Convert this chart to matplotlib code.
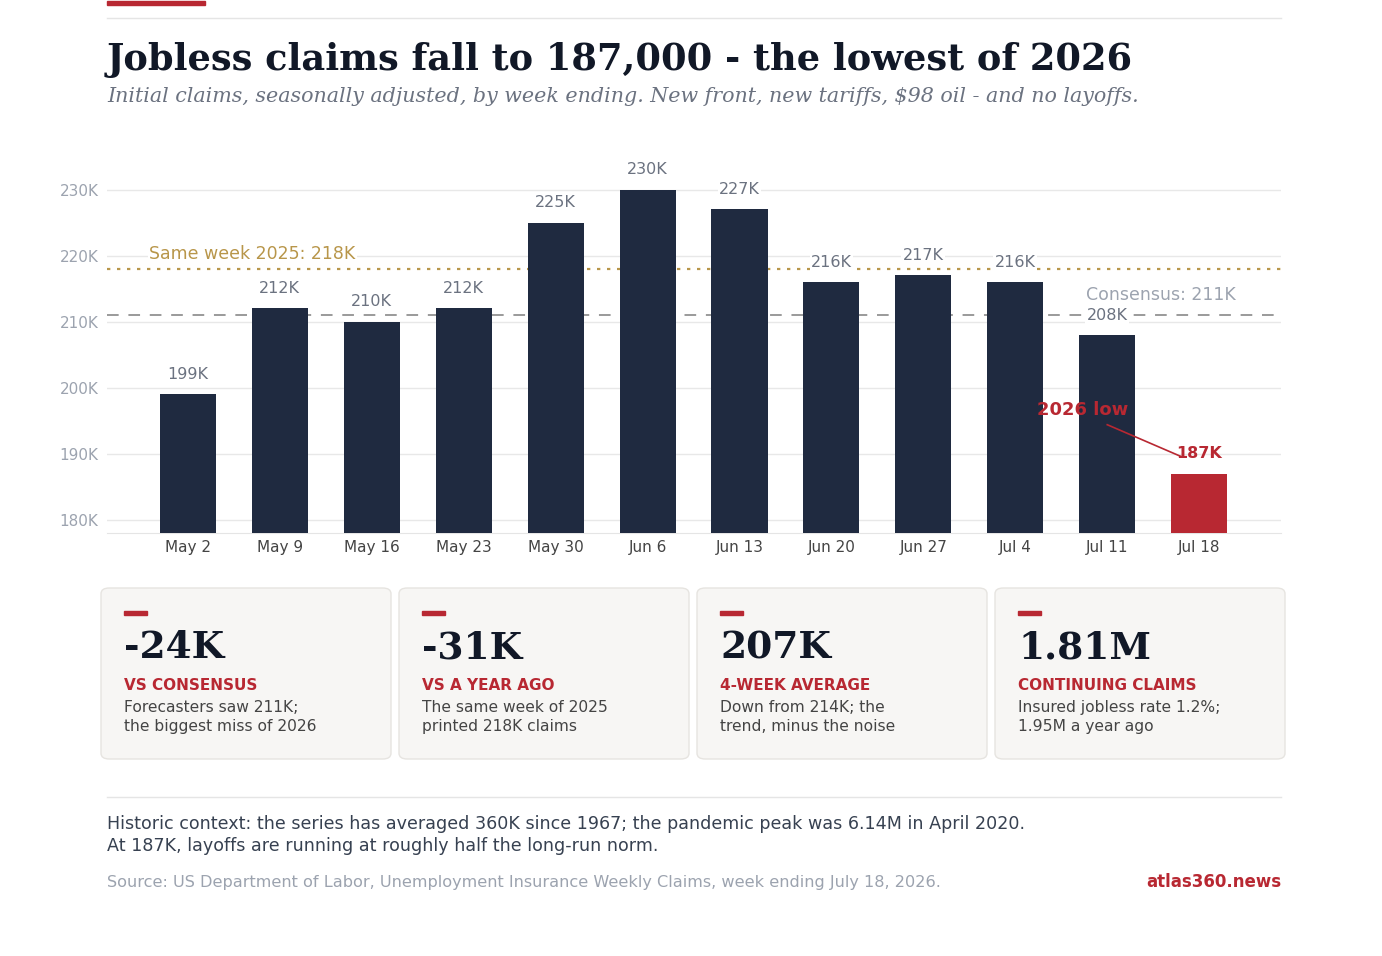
import matplotlib
matplotlib.use("Agg")
import matplotlib.pyplot as plt
from matplotlib.patches import FancyBboxPatch, Rectangle
from matplotlib.lines import Line2D
plt.rcParams['font.family'] = ['DejaVu Sans']

weeks = ["May 2","May 9","May 16","May 23","May 30","Jun 6","Jun 13","Jun 20","Jun 27","Jul 4","Jul 11","Jul 18"]
claims = [199,212,210,212,225,230,227,216,217,216,208,187]
yticks = [180,190,200,210,220,230]
same_week_2025 = 218
consensus = 211
card_values = ["-24K","-31K","207K","1.81M"]
card_labels = ["VS CONSENSUS","VS A YEAR AGO","4-WEEK AVERAGE","CONTINUING CLAIMS"]
card_texts = ["Forecasters saw 211K;\nthe biggest miss of 2026",
              "The same week of 2025\nprinted 218K claims",
              "Down from 214K; the\ntrend, minus the noise",
              "Insured jobless rate 1.2%;\n1.95M a year ago"]

NAVY="#1f2a40"; RED="#b82832"; GOLD="#b8964a"; GRAY="#9ca3af"; DARK="#111827"
W,H=1382,956
fig=plt.figure(figsize=(W/100,H/100),dpi=100)
def fx(x): return x/W
def fy(y): return 1-y/H

fig.add_artist(Rectangle((fx(107),fy(5)),fx(98),4/H,color=RED,transform=fig.transFigure))
fig.add_artist(Line2D([fx(107),fx(1281)],[fy(18),fy(18)],color="#e5e5e5",lw=1,transform=fig.transFigure))
fig.text(fx(107),fy(60),"Jobless claims fall to 187,000 - the lowest of 2026",family="DejaVu Serif",weight="bold",fontsize=26.5,color=DARK,va="center")
fig.text(fx(107),fy(97),"Initial claims, seasonally adjusted, by week ending. New front, new tariffs, $98 oil - and no layoffs.",family="DejaVu Serif",style="italic",fontsize=14.9,color="#6b7280",va="center")

ax=fig.add_axes([fx(107),fy(533),fx(1281)-fx(107),fy(150)-fy(533)])
x=list(range(len(weeks)))
colors=[NAVY]*(len(weeks)-1)+[RED]
ax.bar(x,[c-178 for c in claims],bottom=178,width=0.61,color=colors,zorder=3)
ax.set_xlim(-0.88,11.89); ax.set_ylim(178,236)
ax.set_yticks(yticks); ax.set_yticklabels([f"{t}K" for t in yticks])
ax.set_xticks(x); ax.set_xticklabels(weeks)
ax.tick_params(axis="y",length=0,colors=GRAY,labelsize=11,pad=6)
ax.tick_params(axis="x",length=0,colors="#444444",labelsize=11,pad=5)
ax.grid(axis="y",color="#e8e8e8",lw=1,zorder=0)
for s in ["top","left","right"]: ax.spines[s].set_visible(False)
ax.spines["bottom"].set_color("#e5e5e5")
ax.axhline(same_week_2025,color=GOLD,ls=(0,(1.5,3)),lw=1.6,zorder=2)
ax.axhline(consensus,color="#9a9a9a",ls=(0,(6,5)),lw=1.4,zorder=2)
ax.text(-0.42,220.3,"Same week 2025: 218K",color=GOLD,fontsize=12.5,va="center",
        bbox=dict(facecolor="white",edgecolor="none",pad=1))
ax.text(9.77,214.0,"Consensus: 211K",color=GRAY,fontsize=12.5,va="center")
for i,c in enumerate(claims):
    last=i==len(claims)-1
    ax.text(i,c+3.0,f"{c}K",ha="center",va="center",fontsize=11.5,
            color=RED if last else "#6b7280",weight="bold" if last else "normal",
            bbox=None if last else dict(facecolor="white",edgecolor="none",pad=1),zorder=4)
ax.text(9.73,196.7,"2026 low",color=RED,weight="bold",fontsize=13,ha="center",va="center",zorder=5)
ax.plot([10.0,10.8],[194.4,189.6],color=RED,lw=1.2,zorder=5)

xs=[101,399,697,995]
for i,x0 in enumerate(xs):
    fig.add_artist(FancyBboxPatch((fx(x0),fy(759)),fx(290),(759-588)/H,boxstyle="round,pad=0,rounding_size=0.006",
                   facecolor="#f7f6f4",edgecolor="#e6e4e0",lw=1,transform=fig.transFigure))
    fig.add_artist(Rectangle((fx(x0+23),fy(615)),fx(23),4/H,color=RED,transform=fig.transFigure))
    fig.text(fx(x0+23),fy(648),card_values[i],family="DejaVu Serif",weight="bold",fontsize=27,color=DARK,va="center")
    fig.text(fx(x0+23),fy(685),card_labels[i],weight="bold",fontsize=11,color=RED,va="center")
    fig.text(fx(x0+23),fy(717),card_texts[i],fontsize=11.2,color="#444444",va="center",linespacing=1.35)

fig.add_artist(Line2D([fx(107),fx(1281)],[fy(797),fy(797)],color="#e5e5e5",lw=1,transform=fig.transFigure))
fig.text(fx(107),fy(835),"Historic context: the series has averaged 360K since 1967; the pandemic peak was 6.14M in April 2020.\nAt 187K, layoffs are running at roughly half the long-run norm.",
         fontsize=12.6,color="#374151",va="center",linespacing=1.25)
fig.text(fx(107),fy(882),"Source: US Department of Labor, Unemployment Insurance Weekly Claims, week ending July 18, 2026.",fontsize=11.6,color=GRAY,va="center")
fig.text(fx(1281),fy(882),"atlas360.news",fontsize=12,color=RED,weight="bold",ha="right",va="center")
fig.savefig("out.png",dpi=100,facecolor="white")
